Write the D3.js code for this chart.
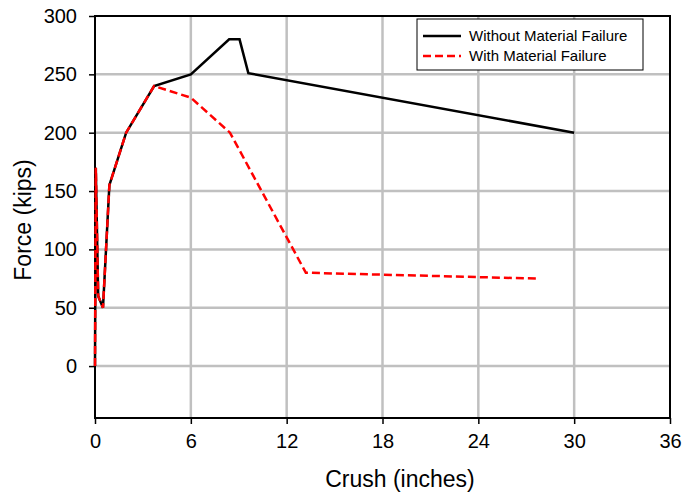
<!DOCTYPE html>
<html>
<head>
<meta charset="utf-8">
<script src="https://cdn.jsdelivr.net/npm/d3@7"></script>
<style>
  html, body { margin: 0; padding: 0; background: #fff; }
  svg { display: block; font-family: "Liberation Sans", Arial, sans-serif; }
</style>
</head>
<body>
<svg id="chart" width="683" height="495"></svg>
<script>
// Data
const seriesNames = ["Without Material Failure", "With Material Failure"];
const crushWithout = [0, 0.05, 0.2, 0.5, 0.9, 1.95, 3.7, 6.0, 8.4, 9.05, 9.6, 30];
const forceWithout = [0, 170, 60, 50, 155, 200, 240, 250, 280, 280, 251, 200];
const crushWith = [0, 0.05, 0.2, 0.5, 0.9, 1.95, 3.7, 6.0, 8.45, 13.2, 27.6];
const forceWith = [0, 170, 60, 50, 155, 200, 240, 230, 200, 80, 75];
const xTicks = [0, 6, 12, 18, 24, 30, 36];
const yTicks = [0, 50, 100, 150, 200, 250, 300];
const xTitle = "Crush (inches)";
const yTitle = "Force (kips)";

(function () {
const svg = d3.select("#chart");
const pL = 95, pR = 670, pT = 16, pB = 418;
const x = d3.scaleLinear().domain([0, 36]).range([pL, pR]);
const y = d3.scaleLinear().domain([-44.5, 300]).range([pB, pT]);

// gridlines
const grid = svg.append("g");
grid.selectAll(".gx").data(xTicks.filter(d => d > 0 && d < 36)).enter().append("line")
  .attr("x1", d => x(d)).attr("x2", d => x(d)).attr("y1", pT).attr("y2", pB)
  .attr("stroke", "#c0c0c0").attr("stroke-width", 2.5);
grid.selectAll(".gy").data(yTicks.filter(d => d < 300)).enter().append("line")
  .attr("x1", pL).attr("x2", pR).attr("y1", d => y(d)).attr("y2", d => y(d))
  .attr("stroke", "#c0c0c0").attr("stroke-width", 2.5);

// frame
svg.append("rect").attr("x", pL).attr("y", pT).attr("width", pR - pL).attr("height", pB - pT)
  .attr("fill", "none").attr("stroke", "#000").attr("stroke-width", 2);

// axes
const xAxis = d3.axisBottom(x).tickValues(xTicks).tickSize(6).tickPadding(10).tickFormat(d3.format("d"));
const gx = svg.append("g").attr("transform", `translate(0,${pB})`).call(xAxis);
gx.select(".domain").remove();
gx.selectAll("line").attr("stroke", "#000").attr("stroke-width", 1.5);
gx.selectAll("text").attr("font-size", 20).attr("fill", "#000").attr("font-family", "Liberation Sans, Arial, sans-serif");

const yAxis = d3.axisLeft(y).tickValues(yTicks).tickSize(6).tickPadding(12).tickFormat(d3.format("d"));
const gy = svg.append("g").attr("transform", `translate(${pL},0)`).call(yAxis);
gy.select(".domain").remove();
gy.selectAll("line").attr("stroke", "#000").attr("stroke-width", 1.5);
gy.selectAll("text").attr("font-size", 20).attr("fill", "#000").attr("font-family", "Liberation Sans, Arial, sans-serif");

// titles
svg.append("text").attr("x", 400).attr("y", 487).attr("text-anchor", "middle")
  .attr("font-size", 23).attr("fill", "#000").text(xTitle);
svg.append("text").attr("transform", "translate(31,220) rotate(-90)").attr("text-anchor", "middle")
  .attr("font-size", 23).attr("fill", "#000").text(yTitle);

// lines
const line = d3.line().x(d => x(d[0])).y(d => y(d[1]));
const dWithout = crushWithout.map((c, i) => [c, forceWithout[i]]);
const dWith = crushWith.map((c, i) => [c, forceWith[i]]);
svg.append("path").datum(dWithout).attr("d", line).attr("fill", "none")
  .attr("stroke", "#000").attr("stroke-width", 2.5).attr("stroke-linejoin", "miter");
svg.append("path").datum(dWith).attr("d", line).attr("fill", "none")
  .attr("stroke", "#ff0000").attr("stroke-width", 2.5).attr("stroke-dasharray", "8,4");

// legend
const lg = svg.append("g");
lg.append("rect").attr("x", 417).attr("y", 19).attr("width", 226).attr("height", 51)
  .attr("fill", "#fff").attr("stroke", "#000").attr("stroke-width", 1);
const styles = [{c: "#000", dash: null}, {c: "#ff0000", dash: "8,4"}];
seriesNames.forEach((n, i) => {
  const yy = 36 + i * 20;
  lg.append("line").attr("x1", 423).attr("x2", 461).attr("y1", yy).attr("y2", yy)
    .attr("stroke", styles[i].c).attr("stroke-width", 2.5).attr("stroke-dasharray", styles[i].dash);
  lg.append("text").attr("x", 469).attr("y", yy + 5).attr("font-size", 15).attr("fill", "#000").text(n);
});
})();
</script>
</body>
</html>
